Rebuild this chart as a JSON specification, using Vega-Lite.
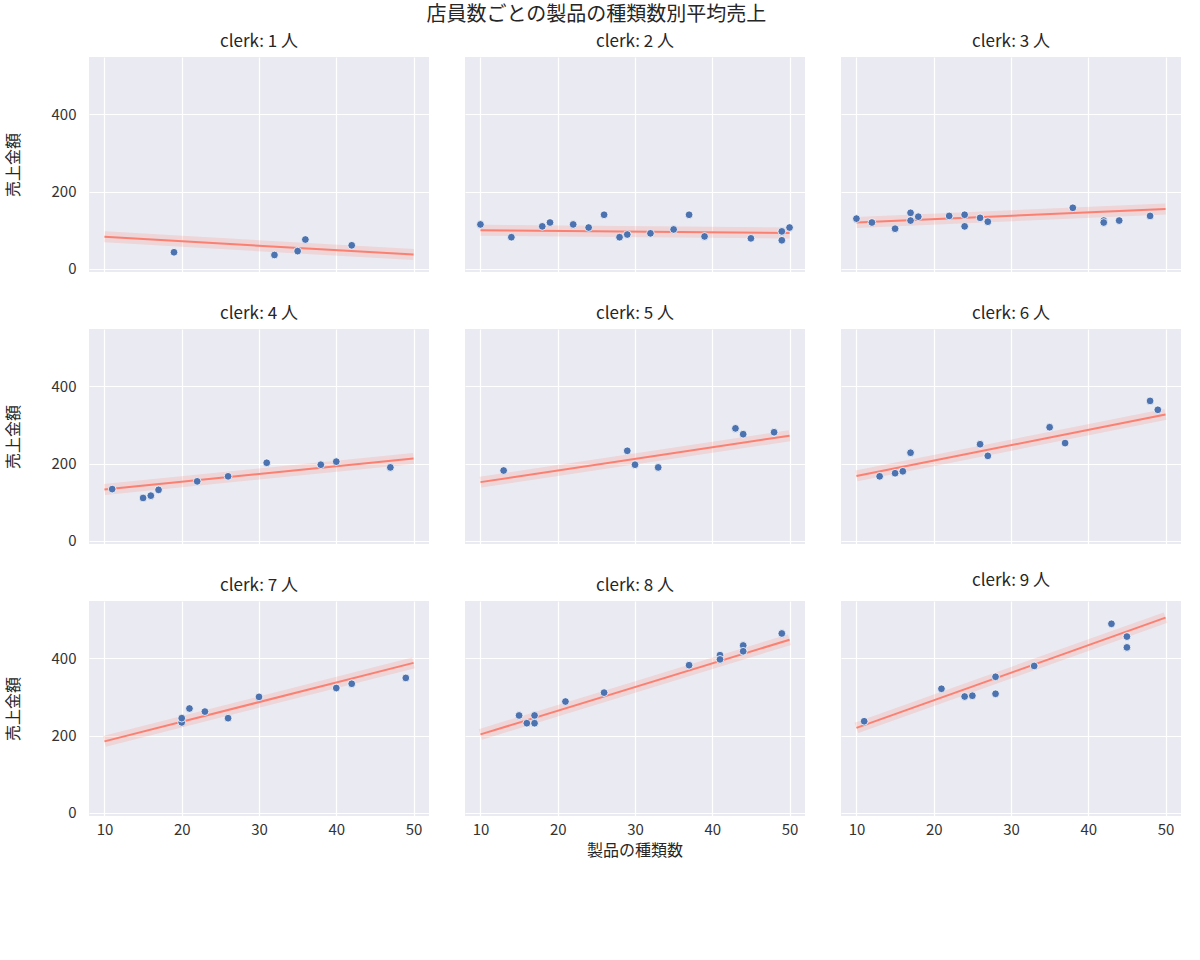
{
"$schema":"https://vega.github.io/schema/vega-lite/v6.json",
"title":{"text":"店員数ごとの製品の種類数別平均売上","anchor":"middle","fontSize":20,"fontWeight":"normal","font":"Noto Sans CJK JP","color":"#262626","offset":8},
"config":{"font":"Noto Sans CJK JP","view":{"fill":"#EAEAF2","stroke":null},
"axis":{"grid":true,"gridColor":"white","gridWidth":1.2,"domain":false,"ticks":false,"labelFontSize":15,"labelColor":"#333","titleFontSize":16,"titleFontWeight":"normal","titleColor":"#262626","labelPadding":6},
"header":{"labelFontSize":17,"labelColor":"#262626"},
"facet":{"spacing":22}},
"data":{"values":[
{"clerk":1,"kind":"l","x":10,"y":83},{"clerk":1,"kind":"l","x":50,"y":37},
{"clerk":2,"kind":"l","x":10,"y":100},{"clerk":2,"kind":"l","x":50,"y":93},
{"clerk":3,"kind":"l","x":10,"y":120},{"clerk":3,"kind":"l","x":50,"y":155},
{"clerk":4,"kind":"l","x":10,"y":133},{"clerk":4,"kind":"l","x":50,"y":213},
{"clerk":5,"kind":"l","x":10,"y":152},{"clerk":5,"kind":"l","x":50,"y":272},
{"clerk":6,"kind":"l","x":10,"y":168},{"clerk":6,"kind":"l","x":50,"y":327},
{"clerk":7,"kind":"l","x":10,"y":185},{"clerk":7,"kind":"l","x":50,"y":388},
{"clerk":8,"kind":"l","x":10,"y":203},{"clerk":8,"kind":"l","x":50,"y":448},
{"clerk":9,"kind":"l","x":10,"y":220},{"clerk":9,"kind":"l","x":50,"y":505},
{"clerk":1,"kind":"p","x":19,"y":43},{"clerk":1,"kind":"p","x":32,"y":36},{"clerk":1,"kind":"p","x":35,"y":46},{"clerk":1,"kind":"p","x":36,"y":76},{"clerk":1,"kind":"p","x":42,"y":61},
{"clerk":2,"kind":"p","x":10,"y":115},{"clerk":2,"kind":"p","x":14,"y":82},{"clerk":2,"kind":"p","x":18,"y":110},{"clerk":2,"kind":"p","x":19,"y":120},{"clerk":2,"kind":"p","x":22,"y":115},{"clerk":2,"kind":"p","x":24,"y":107},{"clerk":2,"kind":"p","x":26,"y":140},{"clerk":2,"kind":"p","x":28,"y":82},{"clerk":2,"kind":"p","x":29,"y":89},{"clerk":2,"kind":"p","x":32,"y":92},{"clerk":2,"kind":"p","x":35,"y":102},{"clerk":2,"kind":"p","x":37,"y":140},{"clerk":2,"kind":"p","x":39,"y":84},{"clerk":2,"kind":"p","x":45,"y":79},{"clerk":2,"kind":"p","x":49,"y":97},{"clerk":2,"kind":"p","x":49,"y":74},{"clerk":2,"kind":"p","x":50,"y":107},
{"clerk":3,"kind":"p","x":10,"y":130},{"clerk":3,"kind":"p","x":12,"y":120},{"clerk":3,"kind":"p","x":15,"y":104},{"clerk":3,"kind":"p","x":17,"y":145},{"clerk":3,"kind":"p","x":17,"y":125},{"clerk":3,"kind":"p","x":18,"y":135},{"clerk":3,"kind":"p","x":22,"y":137},{"clerk":3,"kind":"p","x":24,"y":140},{"clerk":3,"kind":"p","x":24,"y":110},{"clerk":3,"kind":"p","x":26,"y":132},{"clerk":3,"kind":"p","x":27,"y":122},{"clerk":3,"kind":"p","x":38,"y":158},{"clerk":3,"kind":"p","x":42,"y":125},{"clerk":3,"kind":"p","x":42,"y":120},{"clerk":3,"kind":"p","x":44,"y":125},{"clerk":3,"kind":"p","x":48,"y":137},
{"clerk":4,"kind":"p","x":11,"y":134},{"clerk":4,"kind":"p","x":15,"y":111},{"clerk":4,"kind":"p","x":16,"y":117},{"clerk":4,"kind":"p","x":17,"y":132},{"clerk":4,"kind":"p","x":22,"y":154},{"clerk":4,"kind":"p","x":26,"y":167},{"clerk":4,"kind":"p","x":31,"y":202},{"clerk":4,"kind":"p","x":38,"y":197},{"clerk":4,"kind":"p","x":40,"y":205},{"clerk":4,"kind":"p","x":47,"y":190},
{"clerk":5,"kind":"p","x":13,"y":182},{"clerk":5,"kind":"p","x":29,"y":233},{"clerk":5,"kind":"p","x":30,"y":197},{"clerk":5,"kind":"p","x":33,"y":190},{"clerk":5,"kind":"p","x":43,"y":291},{"clerk":5,"kind":"p","x":44,"y":276},{"clerk":5,"kind":"p","x":48,"y":281},
{"clerk":6,"kind":"p","x":13,"y":167},{"clerk":6,"kind":"p","x":15,"y":175},{"clerk":6,"kind":"p","x":16,"y":180},{"clerk":6,"kind":"p","x":17,"y":228},{"clerk":6,"kind":"p","x":26,"y":250},{"clerk":6,"kind":"p","x":27,"y":220},{"clerk":6,"kind":"p","x":35,"y":294},{"clerk":6,"kind":"p","x":37,"y":253},{"clerk":6,"kind":"p","x":48,"y":362},{"clerk":6,"kind":"p","x":49,"y":339},
{"clerk":7,"kind":"p","x":20,"y":234},{"clerk":7,"kind":"p","x":20,"y":245},{"clerk":7,"kind":"p","x":21,"y":270},{"clerk":7,"kind":"p","x":23,"y":262},{"clerk":7,"kind":"p","x":26,"y":245},{"clerk":7,"kind":"p","x":30,"y":300},{"clerk":7,"kind":"p","x":40,"y":323},{"clerk":7,"kind":"p","x":42,"y":334},{"clerk":7,"kind":"p","x":49,"y":349},
{"clerk":8,"kind":"p","x":15,"y":252},{"clerk":8,"kind":"p","x":16,"y":232},{"clerk":8,"kind":"p","x":17,"y":252},{"clerk":8,"kind":"p","x":17,"y":232},{"clerk":8,"kind":"p","x":21,"y":288},{"clerk":8,"kind":"p","x":26,"y":311},{"clerk":8,"kind":"p","x":37,"y":382},{"clerk":8,"kind":"p","x":41,"y":408},{"clerk":8,"kind":"p","x":41,"y":397},{"clerk":8,"kind":"p","x":44,"y":433},{"clerk":8,"kind":"p","x":44,"y":418},{"clerk":8,"kind":"p","x":49,"y":464},
{"clerk":9,"kind":"p","x":11,"y":237},{"clerk":9,"kind":"p","x":21,"y":321},{"clerk":9,"kind":"p","x":24,"y":301},{"clerk":9,"kind":"p","x":25,"y":303},{"clerk":9,"kind":"p","x":28,"y":352},{"clerk":9,"kind":"p","x":28,"y":308},{"clerk":9,"kind":"p","x":33,"y":380},{"clerk":9,"kind":"p","x":43,"y":489},{"clerk":9,"kind":"p","x":45,"y":456},{"clerk":9,"kind":"p","x":45,"y":428}
]},
"facet":{"field":"clerk","type":"ordinal","title":"製品の種類数","header":{"labelExpr":"'clerk: ' + datum.value + ' 人'","labelPadding":6,"titleOrient":"bottom","titleFontSize":16,"titleFontWeight":"normal","titleColor":"#262626","titlePadding":6}},
"columns":3,
"spec":{
"width":340,"height":215,
"encoding":{
"x":{"field":"x","type":"quantitative","title":null,"scale":{"domain":[8,52],"nice":false},"axis":{"values":[10,20,30,40,50]}},
"y":{"field":"y","type":"quantitative","title":"売上金額","scale":{"domain":[-8,548],"nice":false},"axis":{"values":[0,200,400],"titlePadding":30}}
},
"layer":[
{"transform":[{"filter":"datum.kind == 'l'"}],"mark":{"type":"line","color":"#FA8072","strokeWidth":11,"opacity":0.2}},
{"transform":[{"filter":"datum.kind == 'l'"}],"mark":{"type":"line","color":"#FA8072","strokeWidth":2}},
{"transform":[{"filter":"datum.kind == 'p'"}],"mark":{"type":"point","filled":true,"color":"#4C72B0","stroke":"white","strokeWidth":0.8,"size":60,"opacity":1}}
]}
}
